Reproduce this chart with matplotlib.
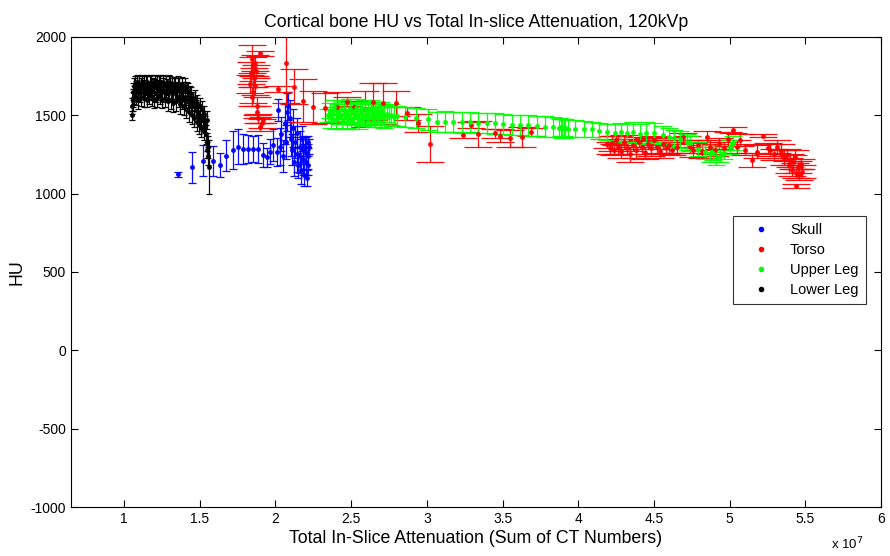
import matplotlib
matplotlib.use("Agg")
import matplotlib.pyplot as plt
from matplotlib.lines import Line2D

plt.rcParams["font.family"] = ["Liberation Sans", "DejaVu Sans"]
plt.rcParams["axes.unicode_minus"] = False

# Skull: total in-slice attenuation (x 1e7), HU, error
skull_x = [1.359, 1.451, 1.524, 1.590, 1.634, 1.672, 1.718, 1.755, 1.788, 1.821,
           1.854, 1.887, 1.916, 1.947, 1.964, 1.986, 2.009, 2.020, 2.030, 2.040,
           2.050, 2.060, 2.070, 2.078, 2.085, 2.095, 2.100, 2.110, 2.115, 2.125,
           2.130, 2.140, 2.145, 2.150, 2.160, 2.165, 2.170, 2.175, 2.180, 2.185,
           2.190, 2.195, 2.200, 2.205, 2.208, 2.212, 2.215, 2.218, 2.220]
skull_hu = [1123, 1168, 1210, 1208, 1183, 1242, 1278, 1300, 1285, 1285,
            1285, 1285, 1247, 1232, 1268, 1310, 1268, 1534, 1300, 1380,
            1240, 1450, 1330, 1520, 1560, 1480, 1350, 1280, 1420, 1200,
            1330, 1250, 1390, 1180, 1300, 1240, 1150, 1350, 1220, 1280,
            1120, 1300, 1200, 1260, 1100, 1330, 1180, 1240, 1300]
skull_err = [15, 98, 98, 96, 75, 100, 119, 110, 95, 90,
             85, 90, 75, 60, 80, 100, 90, 70, 120, 110,
             100, 130, 110, 120, 90, 120, 110, 100, 120, 90,
             100, 110, 90, 80, 100, 110, 90, 80, 100, 90,
             70, 60, 80, 100, 50, 40, 60, 80, 50]

# Torso
torso_x = [1.835, 1.840, 1.843, 1.846, 1.850, 1.854, 1.858, 1.862, 1.865, 1.870,
           1.875, 1.880, 1.898, 1.887, 1.898, 1.909, 1.915, 2.015, 2.068, 2.125,
           2.184, 2.250, 2.328, 2.405, 2.475, 2.520, 2.592, 2.647, 2.713, 2.797,
           2.872, 2.940, 3.020, 3.240, 3.290, 3.340, 3.450, 3.480, 3.550, 3.627,
           3.690, 4.190, 4.210, 4.220, 4.235, 4.250, 4.265, 4.280, 4.300, 4.320,
           4.340, 4.360, 4.380, 4.400, 4.420, 4.440, 4.460, 4.480, 4.500, 4.520,
           4.540, 4.560, 4.580, 4.600, 4.620, 4.650, 4.690, 4.720, 4.740, 4.760,
           4.790, 4.820, 4.850, 4.870, 4.900, 4.930, 4.960, 4.990, 5.020, 5.050,
           5.070, 5.100, 5.146, 5.180, 5.220, 5.250, 5.267, 5.290, 5.310, 5.340,
           5.360, 5.380, 5.390, 5.400, 5.410, 5.420, 5.430, 5.435, 5.440, 5.450,
           5.460, 5.470, 5.480]
torso_hu = [1700, 1770, 1860, 1620, 1810, 1651, 1740, 1832, 1690, 1780,
            1560, 1520, 1896, 1481, 1427, 1449, 1470, 1666, 1836, 1683,
            1593, 1551, 1545, 1555, 1587, 1550, 1540, 1587, 1577, 1577,
            1513, 1449, 1317, 1374, 1440, 1380, 1385, 1370, 1353, 1360,
            1394, 1320, 1290, 1321, 1280, 1340, 1310, 1270, 1330, 1290,
            1250, 1310, 1280, 1330, 1300, 1260, 1320, 1290, 1340, 1300,
            1270, 1320, 1290, 1310, 1280, 1300, 1360, 1330, 1300, 1280,
            1310, 1270, 1363, 1300, 1280, 1320, 1290, 1350, 1406, 1300,
            1342, 1280, 1215, 1268, 1370, 1290, 1278, 1250, 1300, 1270,
            1230, 1246, 1180, 1210, 1150, 1200, 1236, 1130, 1048, 1170,
            1120, 1190, 1140]
torso_err = [60, 70, 90, 60, 60, 70, 60, 50, 60, 40,
             60, 40, 15, 30, 25, 30, 20, 20, 255, 112,
             138, 106, 96, 96, 30, 40, 117, 120, 130, 80,
             40, 57, 117, 21, 20, 81, 30, 43, 53, 64,
             26, 30, 40, 50, 35, 30, 60, 40, 45, 35,
             50, 40, 55, 30, 45, 40, 35, 50, 30, 40,
             45, 35, 40, 50, 35, 40, 30, 35, 40, 45,
             30, 40, 35, 45, 40, 35, 40, 45, 20, 40,
             40, 35, 42, 40, 10, 35, 40, 35, 40, 45,
             50, 40, 45, 40, 35, 45, 40, 30, 15, 40,
             35, 30, 40]

# Upper leg
upper_x = [2.350, 2.360, 2.370, 2.380, 2.390, 2.400, 2.410, 2.420, 2.430, 2.440,
           2.450, 2.460, 2.470, 2.480, 2.490, 2.500, 2.510, 2.520, 2.530, 2.540,
           2.550, 2.560, 2.570, 2.580, 2.590, 2.600, 2.610, 2.620, 2.630, 2.640,
           2.650, 2.660, 2.670, 2.680, 2.690, 2.700, 2.710, 2.720, 2.735, 2.750,
           2.765, 2.780, 2.800, 2.856, 2.930, 3.010, 3.065, 3.120, 3.175, 3.230,
           3.285, 3.340, 3.395, 3.450, 3.505, 3.560, 3.615, 3.670, 3.725, 3.780,
           3.830, 3.870, 3.885, 3.895, 3.905, 3.915, 3.930, 3.980, 4.040, 4.090,
           4.140, 4.190, 4.240, 4.280, 4.320, 4.360, 4.410, 4.450, 4.500, 4.560,
           4.600, 4.630, 4.670, 4.720, 4.740, 4.790, 4.840, 4.870, 4.890, 4.910,
           4.935, 4.960, 5.000, 5.020]
upper_hu = [1500, 1530, 1480, 1510, 1550, 1470, 1520, 1490, 1540, 1460,
            1510, 1530, 1480, 1500, 1540, 1470, 1520, 1490, 1545, 1500,
            1470, 1530, 1510, 1480, 1540, 1500, 1520, 1490, 1535, 1505,
            1480, 1525, 1500, 1515, 1490, 1530, 1500, 1485, 1510, 1495,
            1505, 1490, 1495, 1491, 1481, 1474, 1459, 1460, 1458, 1455,
            1456, 1452, 1450, 1448, 1445, 1440, 1438, 1436, 1432, 1428,
            1425, 1420, 1424, 1416, 1422, 1418, 1415, 1415, 1412, 1410,
            1400, 1395, 1390, 1392, 1385, 1395, 1380, 1390, 1389, 1374,
            1362, 1353, 1347, 1331, 1321, 1283, 1268, 1250, 1257, 1225,
            1240, 1259, 1300, 1321]
upper_err = [40, 50, 60, 45, 50, 60, 55, 45, 60, 50,
             65, 55, 60, 50, 65, 55, 60, 50, 60, 55,
             60, 55, 65, 50, 60, 55, 60, 55, 60, 65,
             55, 60, 55, 60, 65, 55, 60, 65, 55, 60,
             65, 60, 65, 65, 65, 65, 65, 65, 65, 65,
             65, 65, 65, 65, 65, 65, 65, 65, 65, 65,
             65, 60, 55, 60, 55, 60, 55, 55, 50, 48,
             48, 50, 55, 60, 60, 65, 65, 65, 60, 60,
             55, 55, 55, 50, 50, 45, 45, 45, 40, 40,
             40, 40, 45, 45]

# Lower leg
lower_x = [1.052, 1.055, 1.057, 1.060, 1.062, 1.065, 1.068, 1.072, 1.076, 1.080,
           1.085, 1.090, 1.095, 1.100, 1.105, 1.110, 1.115, 1.120, 1.125, 1.130,
           1.135, 1.140, 1.145, 1.150, 1.155, 1.160, 1.165, 1.170, 1.175, 1.180,
           1.185, 1.190, 1.195, 1.200, 1.205, 1.210, 1.215, 1.220, 1.225, 1.230,
           1.235, 1.240, 1.245, 1.250, 1.255, 1.260, 1.265, 1.270, 1.275, 1.280,
           1.285, 1.290, 1.295, 1.300, 1.305, 1.310, 1.315, 1.320, 1.325, 1.330,
           1.335, 1.340, 1.345, 1.350, 1.355, 1.360, 1.365, 1.370, 1.375, 1.380,
           1.385, 1.390, 1.395, 1.400, 1.405, 1.410, 1.415, 1.420, 1.425, 1.430,
           1.435, 1.440, 1.445, 1.450, 1.455, 1.460, 1.465, 1.470, 1.475, 1.480,
           1.485, 1.490, 1.495, 1.500, 1.505, 1.510, 1.515, 1.520, 1.525, 1.530,
           1.535, 1.540, 1.545, 1.548, 1.550, 1.552, 1.555, 1.558]
lower_hu = [1500, 1560, 1610, 1650, 1590, 1690, 1630, 1700, 1660, 1620,
            1710, 1650, 1600, 1700, 1640, 1690, 1620, 1710, 1670, 1610,
            1700, 1650, 1690, 1600, 1710, 1660, 1630, 1700, 1650, 1710,
            1620, 1690, 1600, 1680, 1710, 1640, 1700, 1610, 1670, 1700,
            1630, 1710, 1660, 1600, 1690, 1710, 1650, 1610, 1700, 1640,
            1680, 1590, 1710, 1650, 1700, 1600, 1660, 1690, 1580, 1700,
            1640, 1690, 1590, 1660, 1700, 1610, 1680, 1570, 1650, 1700,
            1600, 1660, 1560, 1690, 1620, 1540, 1670, 1600, 1650, 1520,
            1640, 1580, 1620, 1500, 1600, 1560, 1480, 1610, 1540, 1460,
            1580, 1520, 1440, 1560, 1490, 1420, 1540, 1470, 1400, 1510,
            1440, 1380, 1470, 1330, 1280, 1240, 1300, 1170]
lower_err = [30, 50, 60, 55, 60, 50, 55, 50, 60, 55,
             45, 55, 60, 50, 55, 50, 60, 45, 55, 60,
             50, 55, 60, 50, 45, 55, 60, 50, 55, 45,
             60, 50, 55, 50, 45, 55, 50, 60, 55, 50,
             55, 45, 60, 55, 50, 45, 55, 60, 50, 55,
             50, 60, 45, 55, 50, 60, 55, 50, 60, 45,
             55, 50, 60, 55, 50, 60, 55, 60, 50, 45,
             60, 55, 60, 50, 55, 60, 45, 55, 55, 60,
             50, 55, 60, 55, 50, 60, 55, 50, 55, 60,
             50, 55, 60, 50, 55, 60, 50, 55, 60, 50,
             55, 60, 55, 60, 50, 60, 70, 170]

series = [
    ("Skull", skull_x, skull_hu, skull_err, "#0000ff", 3.0),
    ("Torso", torso_x, torso_hu, torso_err, "#ff0000", 10.0),
    ("Upper Leg", upper_x, upper_hu, upper_err, "#00ff00", 6.5),
    ("Lower Leg", lower_x, lower_hu, lower_err, "#000000", 2.0),
]

fig = plt.figure(figsize=(8.9, 5.56), dpi=100)
ax = fig.add_axes([0.0798, 0.0881, 0.9102, 0.8454])

handles = []
for name, x, y, err, color, cap in series:
    ax.errorbar(x, y, yerr=err, fmt=".", color=color, ecolor=color,
                markersize=5, elinewidth=0.9, capsize=cap, capthick=0.9,
                alpha=0.95)
    handles.append(Line2D([], [], linestyle="none", marker=".", color=color,
                          markersize=6, label=name))

ax.set_xlim(0.65, 6)
ax.set_ylim(-1000, 2000)
ax.set_xticks([1, 1.5, 2, 2.5, 3, 3.5, 4, 4.5, 5, 5.5, 6])
ax.set_xticklabels(["1", "1.5", "2", "2.5", "3", "3.5", "4", "4.5", "5", "5.5", "6"])
ax.set_yticks(range(-1000, 2001, 500))
ax.tick_params(direction="in", top=True, right=True, length=5, labelsize=10)
for s in ax.spines.values():
    s.set_linewidth(0.8)

ax.set_title("Cortical bone HU vs Total In-slice Attenuation, 120kVp", fontsize=12.8, pad=7)
ax.set_xlabel("Total In-Slice Attenuation (Sum of CT Numbers)", fontsize=12.8, labelpad=3)
ax.set_ylabel("HU", fontsize=12.8)
ax.text(0.978, -0.062, r"x 10$^7$", transform=ax.transAxes, ha="right", va="top", fontsize=9.5)

leg = ax.legend(handles=handles, loc="upper right", bbox_to_anchor=(0.981, 0.619),
                borderaxespad=0, fontsize=10.5, frameon=True, fancybox=False,
                edgecolor="black", handlelength=2.8, handletextpad=0.6,
                borderpad=0.5, labelspacing=0.4)
leg.get_frame().set_linewidth(0.8)

fig.savefig("out.png", dpi=100)
